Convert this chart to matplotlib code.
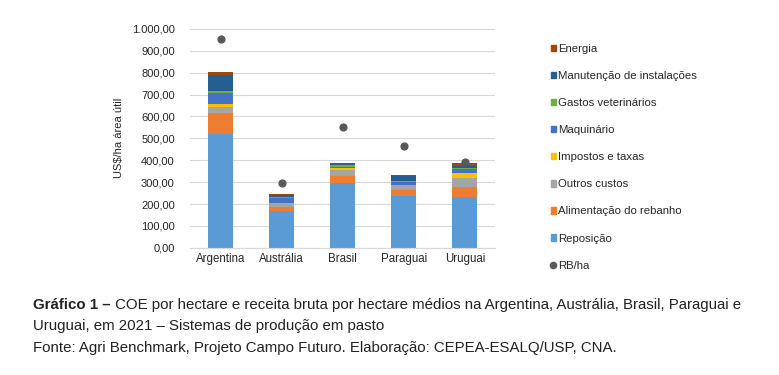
import numpy as np
import matplotlib
matplotlib.use("Agg")
import matplotlib.pyplot as plt
from matplotlib.patches import Patch
from matplotlib.lines import Line2D

# Data (US$/ha area util)
paises = ["Argentina", "Austrália", "Brasil", "Paraguai", "Uruguai"]
reposicao = [520, 170, 295, 239, 234]
alimentacao = [98, 17, 35, 26, 46]
outros = [24, 17, 26, 20, 38]
impostos = [16, 3, 8, 2, 24]
maquinario = [48, 23, 6, 13, 18]
veterinarios = [12, 3, 8, 5, 5]
manutencao = [72, 7, 5, 25, 8]
energia = [14, 5, 3, 3, 14]
rb_ha = [954, 295, 551, 466, 394]

series = [
    ("Reposição", reposicao, "#5B9BD5"),
    ("Alimentação do rebanho", alimentacao, "#ED7D31"),
    ("Outros custos", outros, "#A5A5A5"),
    ("Impostos e taxas", impostos, "#FFC000"),
    ("Maquinário", maquinario, "#4472C4"),
    ("Gastos veterinários", veterinarios, "#70AD47"),
    ("Manutenção de instalações", manutencao, "#255E91"),
    ("Energia", energia, "#9E480E"),
]

plt.rcParams['font.family'] = ['Liberation Sans', 'DejaVu Sans']

fig = plt.figure(figsize=(7.79, 3.75), dpi=100)
ax = fig.add_axes([0.244, 0.339, 0.392, 0.584])

x = np.arange(len(paises))
bottom = np.zeros(len(paises))
for nome, vals, cor in series:
    ax.bar(x, vals, 0.41, bottom=bottom, color=cor, zorder=2)
    bottom += np.array(vals)

ax.scatter(x, rb_ha, s=24, color="#595959", zorder=3)

ax.set_xlim(-0.5, 4.5)
ax.set_ylim(0, 1000)
ax.set_yticks(np.arange(0, 1001, 100))
ax.set_yticklabels([f"{v:,.2f}".replace(",", "X").replace(".", ",").replace("X", ".")
                    for v in np.arange(0, 1001, 100)], fontsize=8, color="#262626")
ax.set_xticks(x)
ax.set_xticklabels(paises, fontsize=8.3, color="#262626")
ax.tick_params(length=0, pad=4)
ax.tick_params(axis="y", pad=11)
ax.yaxis.grid(True, color="#D9D9D9", linewidth=0.8, zorder=0)
for s in ["top", "right", "left"]:
    ax.spines[s].set_visible(False)
ax.spines["bottom"].set_color("#D9D9D9")
ax.set_ylabel("US$/ha área útil", fontsize=8, labelpad=6, color="#262626")

handles = [Patch(color=c, label=n) for n, v, c in series[::-1]]
handles.append(Line2D([], [], marker="o", linestyle="", color="#595959",
                      markersize=4.5, label="RB/ha"))
fig.legend(handles=handles, loc="upper left", bbox_to_anchor=(0.701, 0.895),
           frameon=False, fontsize=8.2, handlelength=0.5, handleheight=0.5,
           handletextpad=0.15, labelspacing=1.5, borderaxespad=0,
           labelcolor="#262626")

# caption, fitted to the reference line width
cap_size = 9.5
renderer = fig.canvas.get_renderer()
t_bold = fig.text(33 / 779, 1 - 305 / 375, "Gráfico 1 –", fontsize=cap_size,
                  fontweight="bold", va="center", color="#222222")
t_rest = fig.text(0, 1 - 305 / 375,
                  " COE por hectare e receita bruta por hectare médios na Argentina, Austrália, Brasil, Paraguai e",
                  fontsize=cap_size, va="center", color="#222222")
w = t_bold.get_window_extent(renderer).width + t_rest.get_window_extent(renderer).width
cap_size = cap_size * (742 - 33) / w
t_bold.set_fontsize(cap_size)
t_rest.set_fontsize(cap_size)
wb = t_bold.get_window_extent(renderer).width
t_rest.set_x((33 + wb) / 779)
fig.text(33 / 779, 1 - 326 / 375, "Uruguai, em 2021 – Sistemas de produção em pasto",
         fontsize=cap_size, va="center", color="#222222")
fig.text(33 / 779, 1 - 348 / 375,
         "Fonte: Agri Benchmark, Projeto Campo Futuro. Elaboração: CEPEA-ESALQ/USP, CNA.",
         fontsize=cap_size, va="center", color="#222222")

fig.savefig("out.png", dpi=100)
